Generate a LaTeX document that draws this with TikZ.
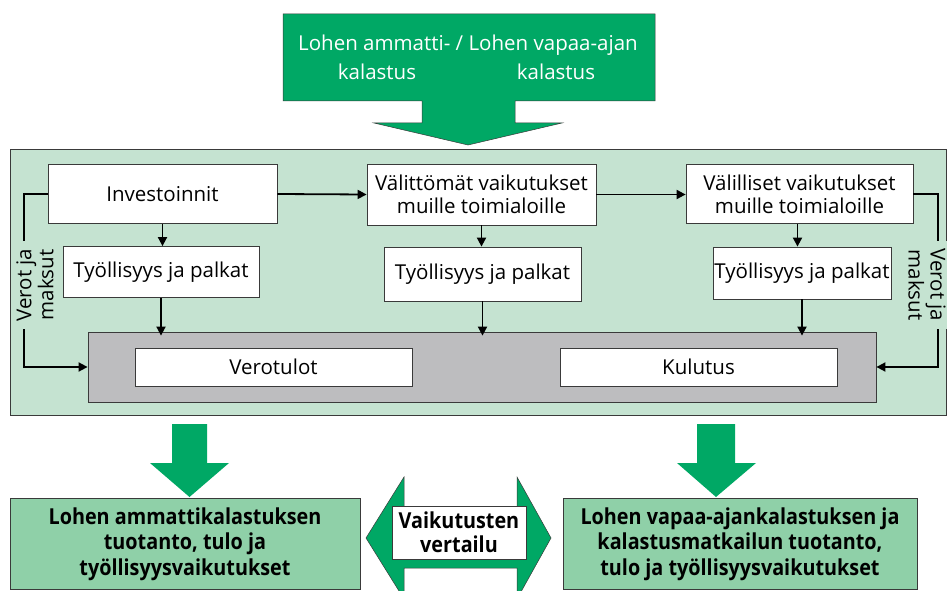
\documentclass[tikz,border=0pt]{standalone}
\usepackage{fontspec}
\setmainfont{Open Sans}
\newfontfamily\condbold[FakeStretch=0.9]{Open Sans Bold}
\usetikzlibrary{arrows.meta}
\definecolor{lgreen}{HTML}{C5E3D1}
\definecolor{dgreen}{HTML}{00A865}
\definecolor{mgreen}{HTML}{8FD0A8}
\definecolor{gbox}{HTML}{BDBDBF}
\definecolor{edge}{HTML}{3A3A3A}
\begin{document}
\begin{tikzpicture}[x=1pt,y=-1pt,
  font=\fontsize{20.5}{23}\selectfont,
  wbox/.style={draw=edge, fill=white, line width=0.8pt, inner sep=0pt, align=center},
  conn/.style={line width=1.8pt, -{Triangle[length=9pt,width=9pt]}},
  bigarrow/.style={fill=dgreen, draw=edge, line width=0.5pt},
  resbox/.style={draw=edge, fill=mgreen, line width=0.8pt, inner sep=0pt, align=center,
                 font=\condbold\fontsize{22}{25.5}\selectfont},
  sidelabel/.style={fill=lgreen, inner xsep=8pt, inner ysep=1pt, align=center, font=\fontsize{20.5}{22}\selectfont}]
\path[use as bounding box, clip] (0,0) rectangle (948,591);
\fill[white] (0,0) rectangle (948,591);

% top arrow
\path[bigarrow] (283,14) -- (655,14) -- (655,101) -- (515,101) -- (515,123) -- (562,123)
  -- (468,145) -- (374,123) -- (422,123) -- (422,101) -- (283,101) -- cycle;
\node[text=white] (tl) at (468,45) {Lohen ammatti- / Lohen vapaa-ajan};
\node[text=white] (tk1) at (377,72) {kalastus};
\node[text=white] (tk2) at (556,72) {kalastus};

% panel
\path[fill=lgreen, draw=edge, line width=0.6pt] (10,149) rectangle (946,415);

% gray box
\node[draw=edge, fill=gbox, line width=0.8pt, minimum width=788pt, minimum height=70pt, inner sep=0pt] (gray) at (482,367) {};
\node[wbox, minimum width=277pt, minimum height=38pt] (vero) at (273.5,367) {Verotulot};
\node[wbox, minimum width=277pt, minimum height=38pt] (kul) at (698.5,367) {Kulutus};

% top row
\node[wbox, minimum width=229pt, minimum height=59pt] (inv) at (162.5,194) {Investoinnit};
\node[wbox, minimum width=229pt, minimum height=61pt] (vdir) at (481.5,194.5) {Välittömät vaikutukset\\muille toimialoille};
\node[wbox, minimum width=227pt, minimum height=59pt] (vind) at (799.5,194) {Välilliset vaikutukset\\muille toimialoille};

% second row
\node[wbox, minimum width=196pt, minimum height=51pt] (ty1) at (161,272) {Työllisyys ja palkat};
\node[wbox, minimum width=197pt, minimum height=54pt] (ty2) at (482.5,274) {Työllisyys ja palkat};
\node[wbox, minimum width=178pt, minimum height=52pt] (ty3) at (802,273) {Työllisyys ja palkat};

% connectors
\draw[conn] (inv.east) -- (vdir.west);
\draw[conn] (vdir.east) -- (vind.west |- vdir.east);
\draw[conn] (inv.south) -- (inv.south |- ty1.north);
\draw[conn] (vdir.south) -- (vdir.south |- ty2.north);
\draw[conn] ([xshift=-2pt]vind.south) -- ([xshift=-2pt]vind.south |- ty3.north);
\draw[conn] (ty1.south) -- ([yshift=-4pt]ty1.south |- gray.north);
\draw[conn] (ty2.south) -- ([yshift=-4pt]ty2.south |- gray.north);
\draw[conn] (ty3.south) -- ([yshift=-4pt]ty3.south |- gray.north);

\coordinate (lc) at (24,194);
\coordinate (rc) at (938,194);
\draw[conn] (inv.west) -- (lc) |- (gray.west);
\draw[conn] (vind.east) -- (rc) |- (gray.east);
\node[sidelabel, rotate=90] (ll) at (35,285) {Verot ja\\maksut};
\node[sidelabel, rotate=-90] (rl) at (927,285) {Verot ja\\maksut};

% bottom down arrows
\path[bigarrow, draw=none] (172,424) -- (207,424) -- (207,463) -- (229,463) -- (189.5,497)
  -- (150,463) -- (172,463) -- cycle;
\path[bigarrow, draw=none] (697,424) -- (735,424) -- (735,463) -- (756,463) -- (716,497)
  -- (677,463) -- (697,463) -- cycle;

% result boxes
\node[resbox, minimum width=350pt, minimum height=91pt] (rl1) at (185,544)
  {Lohen ammattikalastuksen\\tuotanto, tulo ja\\työllisyysvaikutukset};
\node[resbox, minimum width=354pt, minimum height=91pt] (rr1) at (740,544)
  {Lohen vapaa-ajankalastuksen ja\\kalastusmatkailun tuotanto,\\tulo ja työllisyysvaikutukset};

% double arrow
\path[bigarrow] (366,538) -- (404,477) -- (404,507) -- (517,507) -- (517,477) -- (551,538)
  -- (517,599) -- (517,568) -- (404,568) -- (404,599) -- cycle;
\node[draw=edge, fill=white, line width=0.6pt, minimum width=134pt, minimum height=53pt,
      inner sep=0pt, align=center, font=\condbold\fontsize{22}{24}\selectfont] (cmp) at (459,532.5)
  {Vaikutusten\\vertailu};
\end{tikzpicture}
\end{document}
